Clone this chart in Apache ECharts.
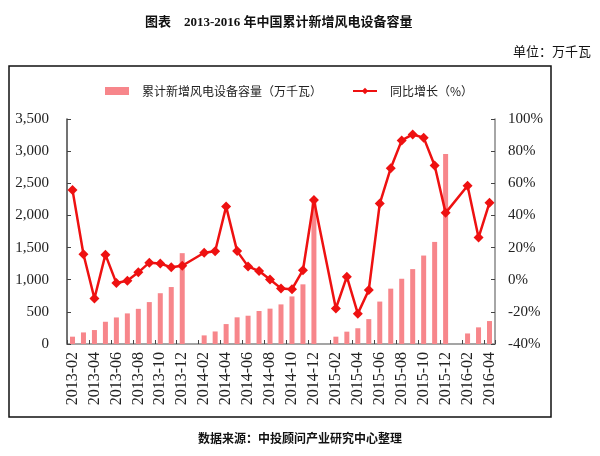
<!DOCTYPE html>
<html>
<head>
<meta charset="utf-8">
<script src="https://cdn.jsdelivr.net/npm/echarts@6/dist/echarts.min.js"></script>
<style>
html,body{margin:0;padding:0;background:#fff;}
#chart{width:600px;height:456px;}
</style>
</head>
<body>
<div id="chart"></div>
<script>
var categories = [
  '2013-02','2013-03','2013-04','2013-05','2013-06','2013-07','2013-08','2013-09','2013-10','2013-11','2013-12',
  '2014-01',
  '2014-02','2014-03','2014-04','2014-05','2014-06','2014-07','2014-08','2014-09','2014-10','2014-11','2014-12',
  '2015-01',
  '2015-02','2015-03','2015-04','2015-05','2015-06','2015-07','2015-08','2015-09','2015-10','2015-11','2015-12',
  '2016-01',
  '2016-02','2016-03','2016-04'
];
var capacity = [
  114,180,217,346,413,476,547,652,790,886,1413,
  null,
  134,195,310,415,440,513,550,616,740,928,2240,
  null,
  114,192,245,387,660,861,1015,1165,1376,1588,2955,
  null,
  164,259,357
];
var growth = [
  55.9,15.8,-11.7,15.6,-2.1,-0.6,4.6,10.6,10.1,7.7,8.7,
  null,
  16.8,17.7,45.5,17.8,8.3,5.4,0.1,-5.4,-5.9,5.9,49.6,
  null,
  -17.9,1.9,-21.1,-6.4,47.4,69.4,86.7,90.4,88.4,71.1,41.6,
  null,
  58.5,26.2,47.9
];
var leftTicks = [0, 3500, 500];
var rightTicks = [-40, 100, 20];
var seriesNames = ['累计新增风电设备容量（万千瓦）', '同比增长（%）'];

var chart = echarts.init(document.getElementById('chart'));
var serif = '"Liberation Serif","Times New Roman",serif';
var cjk = '"Noto Sans CJK SC","Noto Sans",sans-serif';
chart.setOption({
  animation: false,
  backgroundColor: '#fff',
  title: [
    {text: '图表　2013-2016 年中国累计新增风电设备容量', left: 140, top: 11,
     textStyle: {fontFamily: '"Liberation Serif","Noto Sans CJK SC",serif', fontSize: 13, fontWeight: 'bold', color: '#111'}},
    {text: '单位：万千瓦', right: 4, top: 40,
     textStyle: {fontFamily: cjk, fontSize: 13, fontWeight: 'normal', color: '#111'}},
    {text: '数据来源：中投顾问产业研究中心整理', left: 'center', top: 427,
     textStyle: {fontFamily: cjk, fontSize: 12, fontWeight: 'bold', color: '#111'}}
  ],
  graphic: [
    {type: 'rect', shape: {x: 9, y: 66, width: 542, height: 351},
     style: {fill: null, stroke: '#111', lineWidth: 1.5}, silent: true}
  ],
  legend: {
    top: 80, left: 100,
    itemWidth: 24, itemHeight: 8, itemGap: 30,
    textStyle: {fontFamily: cjk, fontSize: 12, color: '#222', padding: [0,0,0,8]},
    data: [
      {name: seriesNames[0], icon: 'rect'},
      {name: seriesNames[1]}
    ]
  },
  grid: {left: 67, right: 105, top: 119, bottom: 112},
  xAxis: {
    type: 'category',
    data: categories,
    boundaryGap: true,
    axisLine: {lineStyle: {color: '#888', width: 1.5}},
    axisTick: {show: true, inside: true, interval: 1, length: 4, lineStyle: {color: '#444'}},
    axisLabel: {interval: 1, rotate: 90, margin: 8, fontFamily: serif, fontSize: 16, color: '#222'},
    splitLine: {show: false}
  },
  yAxis: [
    {
      type: 'value', min: leftTicks[0], max: leftTicks[1], interval: leftTicks[2],
      axisLine: {show: true, lineStyle: {color: '#444', width: 1.5}},
      axisTick: {show: true, inside: true, length: 4, lineStyle: {color: '#444'}},
      axisLabel: {margin: 18, fontFamily: serif, fontSize: 15, color: '#222',
        formatter: function (v) { return v.toLocaleString('en-US'); }},
      splitLine: {show: false}
    },
    {
      type: 'value', min: rightTicks[0], max: rightTicks[1], interval: rightTicks[2],
      axisLine: {show: true, lineStyle: {color: '#888', width: 1.5}},
      axisTick: {show: true, inside: true, length: 4, lineStyle: {color: '#444'}},
      axisLabel: {margin: 13, fontFamily: serif, fontSize: 15, color: '#222', formatter: '{value}%'},
      splitLine: {show: false}
    }
  ],
  series: [
    {
      name: seriesNames[0], type: 'bar', data: capacity, barWidth: 5,
      itemStyle: {color: '#F7868B'}
    },
    {
      name: seriesNames[1], type: 'line', yAxisIndex: 1, data: growth,
      connectNulls: true, symbol: 'diamond', symbolSize: 10,
      showSymbol: true, showAllSymbol: true,
      lineStyle: {color: '#EE1111', width: 2.5},
      itemStyle: {color: '#EE1111'}
    }
  ]
});
</script>
</body>
</html>
